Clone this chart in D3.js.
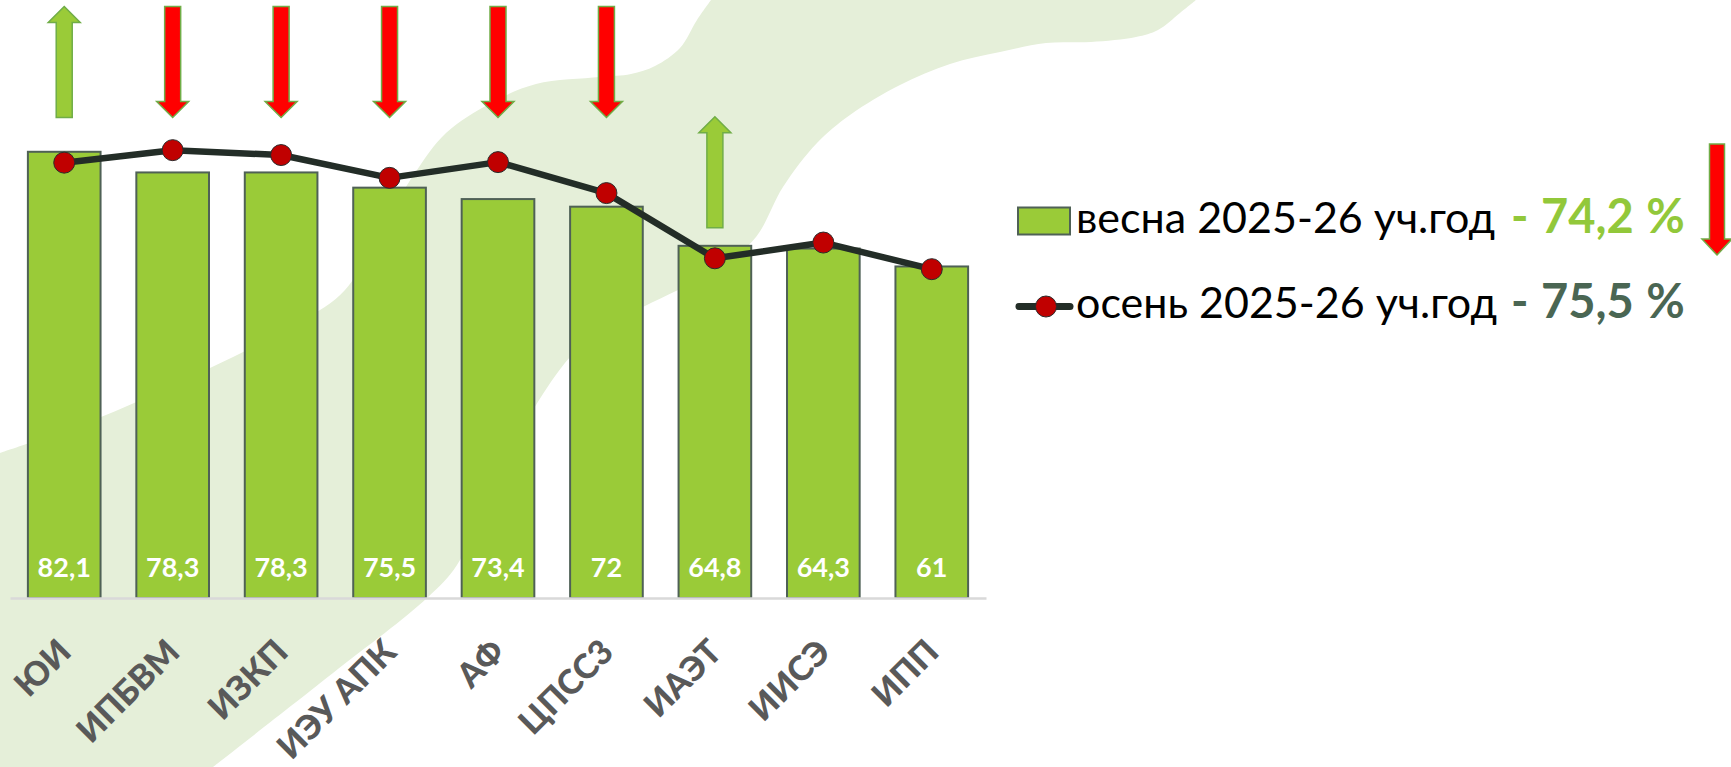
<!DOCTYPE html>
<html>
<head>
<meta charset="utf-8">
<script src="https://cdn.jsdelivr.net/npm/d3@7"></script>
<style>
  html, body { margin: 0; padding: 0; background: #fff; }
  svg { display: block; font-family: Lato, "Open Sans", sans-serif; }
</style>
</head>
<body>
<div id="chart"></div>
<script>
(function () {
  // Data
  var categories = ["ЮИ", "ИПБВМ", "ИЗКП", "ИЭУ АПК", "АФ", "ЦПСС3", "ИАЭТ", "ИИСЭ", "ИПП"];
  var spring = [82.1, 78.3, 78.3, 75.5, 73.4, 72, 64.8, 64.3, 61];
  var autumn = [80.1, 82.4, 81.5, 77.3, 80.2, 74.5, 62.5, 65.4, 60.5];
  var trend = ["up", "down", "down", "down", "down", "down", "up", null, null];
  var springLabel = "весна 2025-26 уч.год";
  var autumnLabel = "осень 2025-26 уч.год";
  var springTotal = "- 74,2 %";
  var autumnTotal = "- 75,5 %";

  var W = 1731, H = 767;
  var barFill = "#9acb38", barStroke = "#4f6156";
  var lineColor = "#232d27", markerFill = "#c00000";
  var redFill = "#ff0000", arrowStroke = "#70ad47";

  var svg = d3.select("#chart").append("svg")
    .attr("width", W)
    .attr("height", H);

  // Light green swoosh in the background
  var upperEdge = [[0, 453], [101, 417], [210, 368], [300, 322], [345, 290], [380, 230],
    [415, 173], [446, 133], [491, 103], [536, 84], [600, 77], [631, 74], [655, 66],
    [680, 48], [697, 20], [711, 0]];
  var lowerEdge = [[1196, 0], [1180, 13], [1158, 30], [1136, 37], [1091, 42], [1046, 43],
    [1000, 52], [950, 64], [900, 85], [850, 115], [817, 143], [783, 187], [756, 237],
    [720, 268], [678, 290], [643, 307], [600, 330], [570, 357], [533, 410], [490, 490],
    [457, 565], [427, 598], [333, 673], [213, 767]];
  var edge = d3.line().curve(d3.curveCatmullRom);
  svg.append("path")
    .attr("d", edge(upperEdge) + "L" + edge(lowerEdge).slice(1) + "L0,767Z")
    .attr("fill", "#e5efd9");

  var x = d3.scaleBand()
    .domain(categories)
    .range([10, 986])
    .paddingInner(0.33)
    .paddingOuter(0.165);

  var y = d3.scaleLinear()
    .domain([0, 100])
    .range([598, 54.5]);

  var g = svg.append("g");

  // Bars
  g.selectAll("rect.bar")
    .data(categories)
    .enter()
    .append("rect")
    .attr("class", "bar")
    .attr("x", function (d) { return x(d); })
    .attr("y", function (d, i) { return y(spring[i]); })
    .attr("width", x.bandwidth())
    .attr("height", function (d, i) { return y(0) - y(spring[i]); })
    .attr("fill", barFill)
    .attr("stroke", barStroke)
    .attr("stroke-width", 2);

  // Axis with rotated category labels
  var axis = g.append("g")
    .attr("transform", "translate(0," + y(0) + ")")
    .call(d3.axisBottom(x).tickSize(0).tickSizeOuter(0));

  axis.select(".domain")
    .attr("stroke", "#d9d9d9")
    .attr("stroke-width", 2.5);

  axis.selectAll(".tick text")
    .attr("x", 0)
    .attr("y", 0)
    .attr("dy", 0)
    .attr("transform", "translate(9,56) rotate(-45)")
    .style("text-anchor", "end")
    .style("font-family", "Lato, sans-serif")
    .style("font-weight", "900")
    .style("font-size", "34px")
    .attr("fill", "#595959");

  // Value labels inside bars
  g.selectAll("text.val")
    .data(categories)
    .enter()
    .append("text")
    .attr("class", "val")
    .attr("x", function (d) { return x(d) + x.bandwidth() / 2; })
    .attr("y", 577)
    .attr("text-anchor", "middle")
    .attr("fill", "#fff")
    .style("font-weight", "bold")
    .style("font-size", "27px")
    .text(function (d, i) { return String(spring[i]).replace(".", ","); });

  // Autumn line
  var line = d3.line()
    .x(function (d, i) { return x(categories[i]) + x.bandwidth() / 2; })
    .y(function (d) { return y(d); });

  g.append("path")
    .datum(autumn)
    .attr("d", line)
    .attr("fill", "none")
    .attr("stroke", lineColor)
    .attr("stroke-width", 6.5)
    .attr("stroke-linejoin", "round");

  g.selectAll("circle.pt")
    .data(autumn)
    .enter()
    .append("circle")
    .attr("class", "pt")
    .attr("cx", function (d, i) { return x(categories[i]) + x.bandwidth() / 2; })
    .attr("cy", function (d) { return y(d); })
    .attr("r", 10.5)
    .attr("fill", markerFill)
    .attr("stroke", "#2b2b2b")
    .attr("stroke-width", 1);

  // Block arrow: cx, top, bottom, direction
  function arrowPath(cx, top, bottom, dir, shaftW, headW, headL) {
    var s = shaftW / 2, h = headW / 2;
    if (dir === "up") {
      return "M" + cx + "," + top +
        "L" + (cx + h) + "," + (top + headL) +
        "L" + (cx + s) + "," + (top + headL) +
        "L" + (cx + s) + "," + bottom +
        "L" + (cx - s) + "," + bottom +
        "L" + (cx - s) + "," + (top + headL) +
        "L" + (cx - h) + "," + (top + headL) + "Z";
    }
    return "M" + cx + "," + bottom +
      "L" + (cx + h) + "," + (bottom - headL) +
      "L" + (cx + s) + "," + (bottom - headL) +
      "L" + (cx + s) + "," + top +
      "L" + (cx - s) + "," + top +
      "L" + (cx - s) + "," + (bottom - headL) +
      "L" + (cx - h) + "," + (bottom - headL) + "Z";
  }

  // Arrows sit in a row above the chart, unless the bar is far below it
  var arrowLen = 111;
  var rowY = y(88.4);
  g.selectAll("path.trend")
    .data(categories.filter(function (d, i) { return trend[i]; }))
    .enter()
    .append("path")
    .attr("class", "trend")
    .attr("d", function (d) {
      var i = categories.indexOf(d);
      var topY = y(Math.max(spring[i], autumn[i]));
      var bottom = (topY - rowY > arrowLen) ? topY - 18 : rowY;
      return arrowPath(x(d) + x.bandwidth() / 2, bottom - arrowLen, bottom, trend[i], 16, 32, 16);
    })
    .attr("fill", function (d) { return trend[categories.indexOf(d)] === "up" ? barFill : redFill; })
    .attr("stroke", arrowStroke)
    .attr("stroke-width", 1.5);

  // Legend
  var leg = svg.append("g");

  leg.append("rect")
    .attr("x", 1018).attr("y", 207.5)
    .attr("width", 52).attr("height", 27)
    .attr("fill", barFill)
    .attr("stroke", barStroke)
    .attr("stroke-width", 2);

  leg.append("line")
    .attr("x1", 1019).attr("x2", 1070)
    .attr("y1", 306.5).attr("y2", 306.5)
    .attr("stroke", lineColor)
    .attr("stroke-width", 7)
    .attr("stroke-linecap", "round");

  leg.append("circle")
    .attr("cx", 1046).attr("cy", 306.5)
    .attr("r", 10.5)
    .attr("fill", markerFill)
    .attr("stroke", "#2b2b2b")
    .attr("stroke-width", 1);

  leg.append("text")
    .attr("x", 1076).attr("y", 233)
    .style("font-size", "43px")
    .attr("fill", "#000")
    .text(springLabel);

  leg.append("text")
    .attr("x", 1076).attr("y", 318)
    .style("font-size", "43px")
    .attr("fill", "#000")
    .text(autumnLabel);

  leg.append("text")
    .attr("x", 1511).attr("y", 233)
    .style("font-size", "47px")
    .style("font-weight", "bold")
    .style("word-spacing", "1px")
    .attr("fill", "#92c83a")
    .text(springTotal);

  leg.append("text")
    .attr("x", 1511).attr("y", 318)
    .style("font-size", "47px")
    .style("font-weight", "bold")
    .style("word-spacing", "1px")
    .attr("fill", "#4a6653")
    .text(autumnTotal);

  leg.append("path")
    .attr("d", arrowPath(1717, 144, 255, "down", 15, 30, 16))
    .attr("fill", redFill)
    .attr("stroke", arrowStroke)
    .attr("stroke-width", 1.5);
})();
</script>
</body>
</html>
